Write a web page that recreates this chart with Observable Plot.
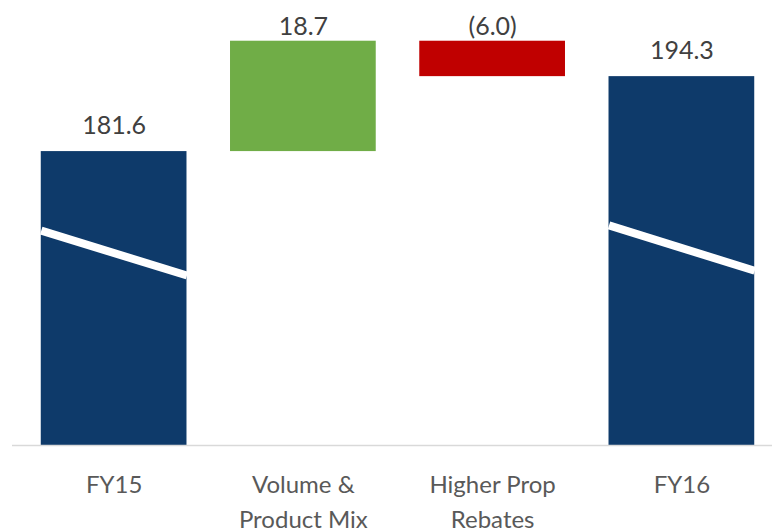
<!DOCTYPE html>
<html>
<head>
<meta charset="utf-8">
<script src="https://cdn.jsdelivr.net/npm/d3@7"></script>
<script src="https://cdn.jsdelivr.net/npm/@observablehq/plot@0.6"></script>
<style>
  html, body { margin: 0; padding: 0; background: #fff; }
  #chart { width: 772px; height: 532px; }
</style>
</head>
<body>
<div id="chart"></div>
<script>
// ---- data ----
const categories = ["FY15", "Volume &\nProduct Mix", "Higher Prop\nRebates", "FY16"];
const values = [181.6, 18.7, -6.0, 194.3];
const kinds = ["total", "increase", "decrease", "total"];
// axis is broken: the visible value floor
const axisFloor = 131.8;
const axisTop = 207.2;
// break marker values on the total bars (upper-left and lower-right ends)
const breakFrom = [168.2, 169.1];
const breakTo = [160.6, 161.4];

// ---- build waterfall rows ----
let running = 0;
const rows = categories.map((c, i) => {
  const v = values[i];
  let lo, hi;
  if (kinds[i] === "total") {
    lo = axisFloor; hi = v; running = v;
  } else {
    const start = running, end = running + v;
    lo = Math.min(start, end); hi = Math.max(start, end); running = end;
  }
  return {i, cat: c, value: v, kind: kinds[i], lo, hi};
});
const totals = rows.filter(d => d.kind === "total");
const breaks = totals.map((d, k) => ({i: d.i, from: breakFrom[k], to: breakTo[k]}));
const deltas = rows.filter(d => d.kind !== "total");

const half = 0.385;
const fmt = v => v < 0 ? `(${Math.abs(v).toFixed(1)})` : v.toFixed(1);

const chart = Plot.plot({
  width: 772,
  height: 532,
  marginTop: 0,
  marginBottom: 87,
  marginLeft: 12,
  marginRight: 0,
  style: {fontFamily: "Lato, 'Open Sans', sans-serif", background: "#fff"},
  x: {type: "linear", domain: [-0.5, 3.5], range: [19, 776], axis: null},
  y: {domain: [axisFloor, axisTop], axis: null},
  color: {domain: ["total", "increase", "decrease"], range: ["#0E3A6A", "#70AD47", "#C00000"]},
  marks: [
    Plot.rectY(rows, {x1: d => d.i - half, x2: d => d.i + half, y1: "lo", y2: "hi", fill: "kind"}),
    Plot.link(breaks, {x1: d => d.i - half, x2: d => d.i + half, y1: "from", y2: "to", stroke: "white", strokeWidth: 8}),
    Plot.ruleY([axisFloor], {stroke: "#D9D9D9", strokeWidth: 1.5}),
    Plot.text(totals, {x: "i", y: "hi", text: d => fmt(d.value), lineAnchor: "bottom", dy: -18, fontSize: 25, fill: "#404040"}),
    Plot.text(deltas, {x: "i", y: "hi", text: d => fmt(d.value), lineAnchor: "bottom", dy: -6, fontSize: 25, fill: "#404040"}),
    Plot.axisX({ticks: [0, 1, 2, 3], tickFormat: i => categories[i], tickSize: 0, tickPadding: 23, fontSize: 24, lineHeight: 1.45, fill: "#595959", label: null})
  ]
});
document.getElementById("chart").appendChild(chart);
</script>
</body>
</html>
